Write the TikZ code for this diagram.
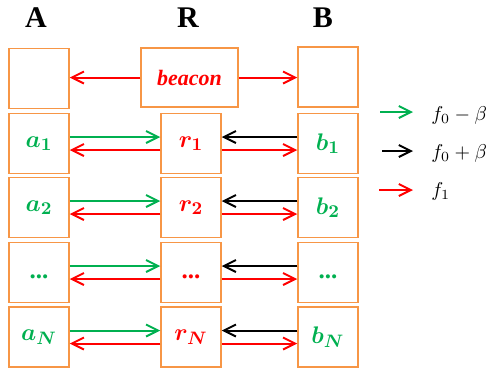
\documentclass[tikz,border=0pt]{standalone}
\usepackage{amsmath}
\usepackage{amssymb}
\usepackage{xcolor}
\usepackage{fontspec}
\setmainfont{Liberation Serif}
\usetikzlibrary{arrows.meta}
\definecolor{boxorange}{RGB}{247,150,70}
\definecolor{sigred}{RGB}{255,0,0}
\definecolor{siggreen}{RGB}{0,176,80}
\tikzset{
  cell/.style={draw=boxorange, line width=0.75pt, minimum width=30pt, minimum height=30pt, inner sep=0pt},
  head/.style={font=\fontsize{15}{18}\selectfont\bfseries},
  lbl/.style={font=\fontsize{12.5}{14}\selectfont},
  legend/.style={font=\fontsize{10}{12}\selectfont, inner sep=0pt},
  sig/.style={line width=1pt, -{Straight Barb[length=6pt,width=6pt]}},
}

\begin{document}
\begin{tikzpicture}[x=0.5pt,y=0.5pt]
\useasboundingbox (0,0) rectangle (488,-372);
% column heads
\node [head] (hA) at (36,-18) {A};
\node [head] (hR) at (188,-18) {R};
\node [head] (hB) at (323,-18) {B};
% beacon row
\node [cell] (a0) at (39,-78.5) {};
\node [cell, minimum width=48.5pt, minimum height=29.5pt, text=sigred, font=\fontsize{11}{14}\selectfont] (beacon) at (189.5,-77.5) {\textbf{\textit{beacon}}};
\node [cell] (b0) at (328,-77) {};
\draw [sig, sigred] (beacon.west) -- (beacon.west -| a0.east);
\draw [sig, sigred] (beacon.east) -- (beacon.east -| b0.west);
% numbered rows
\foreach \n/\y in {1/143.5, 2/207.5, N/337} {
  \node [cell, lbl, text=siggreen] (a\n) at (39,-\y) {$\boldsymbol{a_{\n}}$};
  \node [cell, lbl, text=sigred] (r\n) at (191,-\y) {$\boldsymbol{r_{\n}}$};
  \node [cell, lbl, text=siggreen] (b\n) at (328,-\y) {$\boldsymbol{b_{\n}}$};
}
% dots row
\node [cell, lbl, text=siggreen] (a3) at (39,-272.5) {\textbf{...}\strut};
\node [cell, lbl, text=sigred] (r3) at (191,-272.5) {\textbf{...}\strut};
\node [cell, lbl, text=siggreen] (b3) at (328,-272.5) {\textbf{...}\strut};
% signals
\foreach \n in {1,2,3,N} {
  \draw [sig, siggreen] ([yshift=3.25pt]a\n.east) -- ([yshift=3.25pt]r\n.west);
  \draw [sig, sigred] ([yshift=-3.25pt]r\n.west) -- ([yshift=-3.25pt]a\n.east);
  \draw [sig, black] ([yshift=3.25pt]b\n.west) -- ([yshift=3.25pt]r\n.east);
  \draw [sig, sigred] ([yshift=-3.25pt]r\n.east) -- ([yshift=-3.25pt]b\n.west);
}
% legend
\coordinate (lg0) at (380,-112);
\coordinate (lg1) at (413,-112);
\coordinate (lk0) at (382,-151);
\coordinate (lk1) at (413,-151);
\coordinate (lr0) at (379,-190);
\coordinate (lr1) at (413,-190);
\draw [sig, siggreen] (lg0) -- (lg1);
\draw [sig, black] (lk0) -- (lk1);
\draw [sig, sigred] (lr0) -- (lr1);
\node [legend, anchor=west] (fg) at (431,-115) {$f_0-\beta$};
\node [legend, anchor=west] (fk) at (431,-153) {$f_0+\beta$};
\node [legend, anchor=west] (fr) at (431,-191) {$f_1$};
\end{tikzpicture}
\end{document}
